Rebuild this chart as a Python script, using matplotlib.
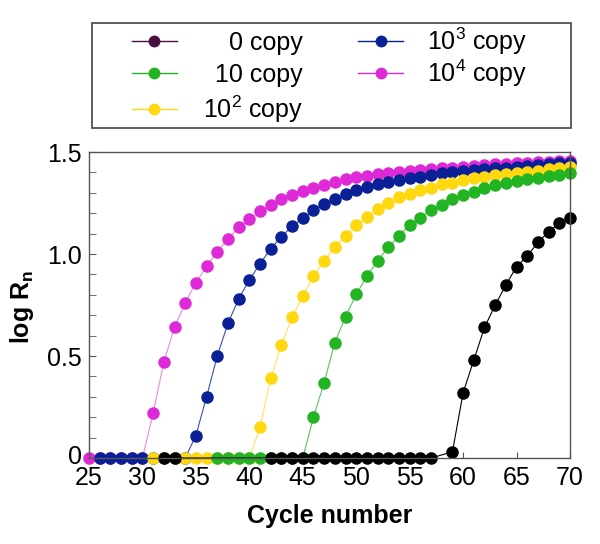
import matplotlib
matplotlib.use('Agg')
import matplotlib.pyplot as plt
import matplotlib.transforms as mtransforms
from matplotlib.lines import Line2D
from matplotlib.patches import Rectangle
import numpy as np

plt.rcParams['font.family'] = ['Liberation Sans', 'DejaVu Sans']
plt.rcParams['mathtext.fontset'] = 'custom'
plt.rcParams['mathtext.rm'] = 'Liberation Sans'
plt.rcParams['mathtext.bf'] = 'Liberation Sans:bold'

# values (cycle, log Rn)
pink_x = list(range(25, 71))
pink_y = [0, 0, 0, 0, 0, 0, 0.22, 0.47, 0.64, 0.76, 0.86, 0.94, 1.01, 1.075,
          1.13, 1.17, 1.21, 1.24, 1.27, 1.29, 1.31, 1.325, 1.337, 1.355, 1.366,
          1.376, 1.382, 1.392, 1.395, 1.404, 1.407, 1.412, 1.417, 1.42, 1.423,
          1.428, 1.431, 1.436, 1.439, 1.441, 1.444, 1.447, 1.45, 1.452, 1.455, 1.458]

blue_x = list(range(26, 71))
blue_y = [0, 0, 0, 0, 0, 0, 0, 0, 0, 0.11, 0.30, 0.50, 0.66, 0.78, 0.873,
          0.952, 1.026, 1.085, 1.136, 1.175, 1.217, 1.247, 1.27, 1.293, 1.314,
          1.33, 1.343, 1.353, 1.363, 1.371, 1.379, 1.387, 1.395, 1.40, 1.407,
          1.412, 1.417, 1.42, 1.423, 1.428, 1.433, 1.436, 1.44, 1.444, 1.447]

yellow_x = list(range(31, 71))
yellow_y = [0, 0, 0, 0, 0, 0, 0, 0, 0, 0, 0.15, 0.39, 0.555, 0.69, 0.793,
            0.892, 0.967, 1.035, 1.088, 1.142, 1.183, 1.22, 1.252, 1.278, 1.294,
            1.314, 1.325, 1.341, 1.35, 1.363, 1.371, 1.379, 1.387, 1.392, 1.399,
            1.404, 1.408, 1.415, 1.42, 1.428]

green_x = list(range(37, 71))
green_y = [0, 0, 0, 0, 0, 0, 0, 0, 0, 0.20, 0.37, 0.566, 0.693, 0.802, 0.892,
           0.966, 1.033, 1.088, 1.142, 1.178, 1.216, 1.24, 1.268, 1.289, 1.306,
           1.322, 1.338, 1.35, 1.359, 1.367, 1.373, 1.381, 1.387, 1.395]

black_x = [32, 33] + list(range(42, 58)) + list(range(59, 71))
black_y = [0, 0] + [0] * 16 + [0.03, 0.32, 0.48, 0.64, 0.75, 0.848, 0.938,
                               0.99, 1.057, 1.109, 1.15, 1.178]

series = [
    (pink_x, pink_y, '#dd2ad6', '#e88ae0'),
    (blue_x, blue_y, '#0a2096', '#3a50b0'),
    (yellow_x, yellow_y, '#ffd810', '#ffe060'),
    (green_x, green_y, '#22b422', '#60c060'),
    (black_x, black_y, '#000000', '#000000'),
]

legend_labels = ['0 copy', '10 copy', r'10$^2$ copy', r'10$^3$ copy', r'10$^4$ copy']
legend_colors = ['#4b0f3f', '#22b422', '#ffd810', '#0a2096', '#dd2ad6']

fig = plt.figure(figsize=(6, 5.44), dpi=100)
W, H = 600, 544
ax = fig.add_axes([89 / W, 1 - 458 / H, (570 - 89) / W, (458 - 152) / H])

for x, y, c, lc in series:
    ax.plot(x, y, '-', color=lc, lw=0.8, clip_on=False)
    ax.plot(x, y, 'o', ms=8, mfc=c, mec=c, clip_on=False)

ax.set_xlim(25, 70)
ax.set_ylim(0, 1.5)
ax.set_xticks(np.arange(25, 71, 5))
ax.set_yticks([0, 0.5, 1.0, 1.5])
ax.set_yticklabels(['0', '0.5', '1.0', '1.5'])
ax.set_yticks(np.arange(0, 1.51, 0.1), minor=True)
ax.tick_params(axis='both', which='both', direction='in', labelsize=18,
               color='#555555', top=False, right=False)
ax.tick_params(axis='y', which='both', length=5, pad=5)
ax.tick_params(axis='x', which='major', length=4, pad=6)
for s in ax.spines.values():
    s.set_color('#555555')
    s.set_linewidth(1.0)

# nudge the "0" label up a little, as in the reference
zero_lab = ax.get_yticklabels()[0]
zero_lab.set_transform(zero_lab.get_transform() +
                       mtransforms.ScaledTranslation(0, 3 / 100, fig.dpi_scale_trans))

ax.set_xlabel('Cycle number', fontsize=18, fontweight='bold')
ax.xaxis.set_label_coords(0.5, (458 - 516) / 306)
ax.xaxis.label.set_verticalalignment('center')
ax.set_ylabel(r'log R$_\mathbf{n}$', fontsize=18, fontweight='bold')
ax.yaxis.set_label_coords((22 - 89) / 481, 0.493)
ax.yaxis.label.set_verticalalignment('center')

# legend box drawn by hand so the first column can be right aligned
fig.add_artist(Rectangle((92 / W, 1 - 128 / H), (571 - 92) / W, (128 - 23) / H,
                         transform=fig.transFigure, fill=False,
                         edgecolor='#444444', lw=1.2))
rows = [50, 81.7, 117.7]
slots = [(0, 0), (0, 1), (0, 2), (1, 0), (1, 1)]
for (col, r), lab, c in zip(slots, legend_labels, legend_colors):
    yb = rows[r]
    if col == 0:
        x0, x1, xm = 132, 177, 154
    else:
        x0, x1, xm = 358, 403, 381
    yc = yb - 9
    fig.add_artist(Line2D([x0 / W, x1 / W], [1 - yc / H, 1 - yc / H],
                          transform=fig.transFigure, color=c, lw=1.0))
    fig.add_artist(Line2D([xm / W], [1 - yc / H], transform=fig.transFigure,
                          marker='o', ms=7.5, color=c, lw=0))
    if col == 0:
        fig.text(303 / W, 1 - yb / H, lab, ha='right', va='baseline', fontsize=18)
    else:
        fig.text(427 / W, 1 - yb / H, lab, ha='left', va='baseline', fontsize=18)

fig.savefig('out.png', dpi=100)
